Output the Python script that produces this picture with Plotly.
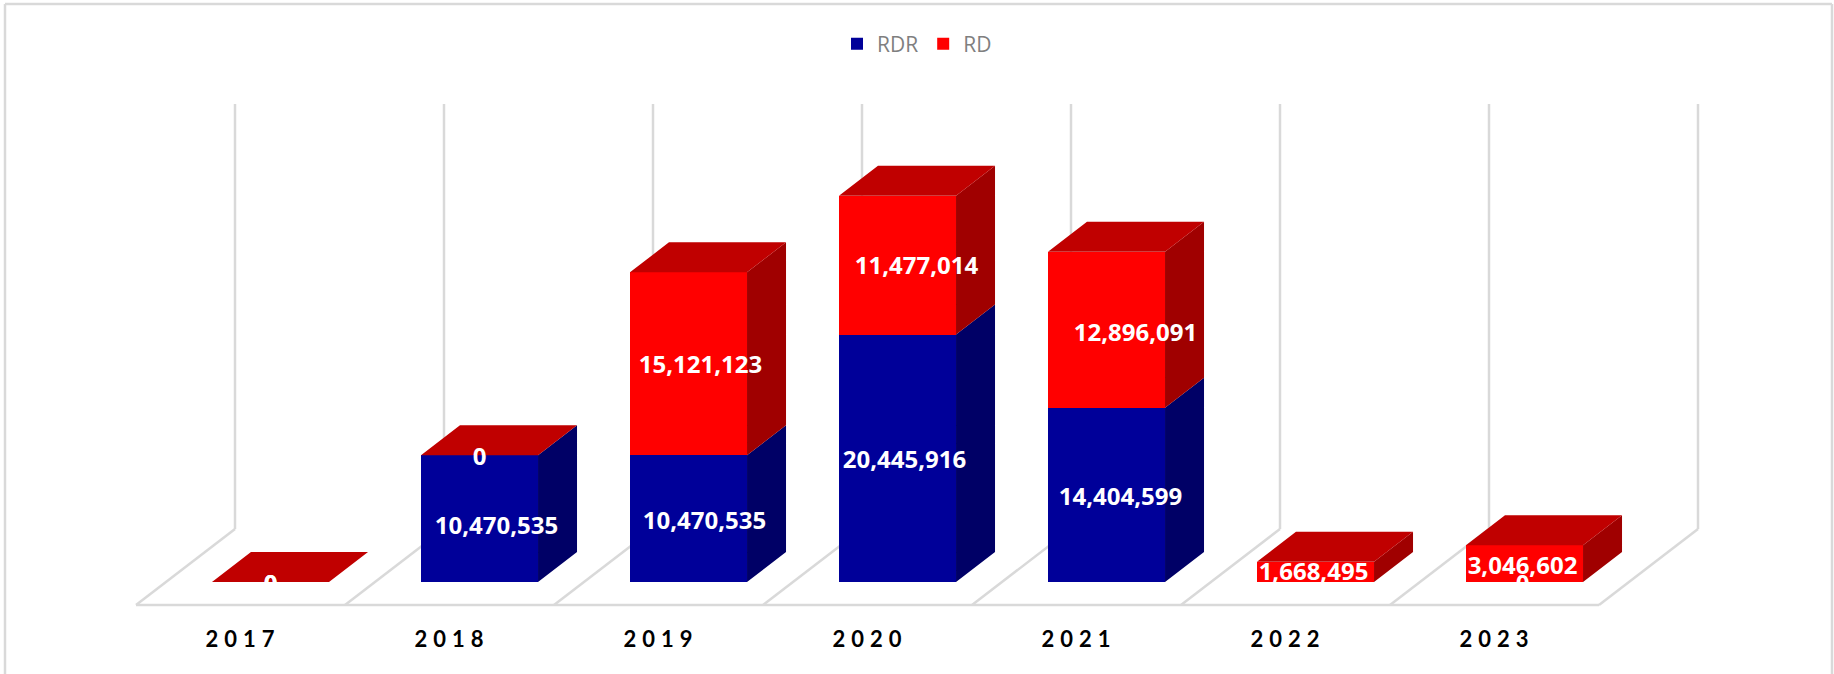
import plotly.graph_objects as go

years = [2017, 2018, 2019, 2020, 2021, 2022, 2023]
rdr = [0, 10470535, 10470535, 20445916, 14404599, None, 0]
rd = [0, 0, 15121123, 11477014, 12896091, 1668495, 3046602]

# label nudges (pixels from the middle of each bar segment, x right / y down)
rdr_label_dx = [0, 17, 16, 7, 14, 0, -2]
rdr_label_dy = [4, 9, 4, 4, 4, 0, 4]
rd_label_dx = [0, 0, 12, 19, 29, -2, -2]
rd_label_dy = [4, 4, 3, 3, 5, 2, 4]

W, H = 1834, 674
BASE_PX = 582          # pixel row of the value 0
PX_PER_UNIT = 12.1e-6  # pixels per value unit
SLOT_PX = 209
FIRST_CENTER_PX = 270.5
BAR_W = 0.56
DEPTH_X = 39 / SLOT_PX
DEPTH_Y = 30 / PX_PER_UNIT
TICK_SHIFT = -0.132

BLUE, BLUE_SIDE = "#000099", "#000066"
RED, RED_SIDE, RED_TOP = "#FF0000", "#A00000", "#C00000"
GRID = "#D9D9D9"
FONT = "Open Sans"

v_rdr = [v or 0 for v in rdr]
v_rd = [v or 0 for v in rd]

fig = go.Figure()
fig.add_bar(x=years, y=rdr, name="RDR", width=BAR_W, marker=dict(color=BLUE, line_width=0), hoverinfo="skip")
fig.add_bar(x=years, y=rd, name="RD", width=BAR_W, marker=dict(color=RED, line_width=0), hoverinfo="skip")


def faces(color, polys):
    xs, ys = [], []
    for p in polys:
        xs += [q[0] for q in p] + [p[0][0], None]
        ys += [q[1] for q in p] + [p[0][1], None]
    fig.add_scatter(x=xs, y=ys, mode="lines", fill="toself", fillcolor=color,
                    line=dict(width=0, color=color), showlegend=False, hoverinfo="skip")


def side(year, lo, hi):
    r = year + BAR_W / 2
    return [(r, lo), (r + DEPTH_X, lo + DEPTH_Y), (r + DEPTH_X, hi + DEPTH_Y), (r, hi)]


def top(year, h):
    l, r = year - BAR_W / 2, year + BAR_W / 2
    return [(l, h), (r, h), (r + DEPTH_X, h + DEPTH_Y), (l + DEPTH_X, h + DEPTH_Y)]


faces(BLUE_SIDE, [side(y, 0, a) for y, a in zip(years, v_rdr) if a])
faces(RED_SIDE, [side(y, a, a + b) for y, a, b in zip(years, v_rdr, v_rd) if b])
faces(RED_TOP, [top(y, a + b) for y, a, b in zip(years, v_rdr, v_rd)])

lx, ly, lt = [], [], []
for i, y in enumerate(years):
    if rdr[i] is not None:
        lx.append(y + rdr_label_dx[i] / SLOT_PX)
        ly.append(v_rdr[i] / 2 - rdr_label_dy[i] / PX_PER_UNIT)
        lt.append(f"{rdr[i]:,}")
    lx.append(y + rd_label_dx[i] / SLOT_PX)
    ly.append(v_rdr[i] + v_rd[i] / 2 - rd_label_dy[i] / PX_PER_UNIT)
    lt.append(f"{rd[i]:,}")
fig.add_scatter(x=lx, y=ly, text=lt, mode="text", textposition="middle center", cliponaxis=True,
                textfont=dict(family=FONT, size=24, color="white", weight="bold"),
                showlegend=False, hoverinfo="skip")


# wall, floor and frame lines, in page pixels
def px(x):
    return x / W


def py(y):
    return 1 - y / H


shapes = []


def seg(x0, y0, x1, y1):
    shapes.append(dict(type="line", xref="paper", yref="paper", layer="below",
                       x0=px(x0), y0=py(y0), x1=px(x1), y1=py(y1), line=dict(color=GRID, width=2.5)))


for i in range(8):
    fx, bx = 136 + SLOT_PX * i, 235 + SLOT_PX * i
    seg(fx, 605, bx, 529)
    seg(bx, 529, bx, 104)
seg(136, 605, 136 + SLOT_PX * 7, 605)
seg(5, 4, 1832, 4)
seg(5, 4, 5, 674)
seg(1832, 4, 1832, 674)

fig.update_layout(
    width=W, height=H, margin=dict(l=0, r=0, t=0, b=0), autosize=False,
    barmode="stack", paper_bgcolor="white", plot_bgcolor="white", shapes=shapes,
    xaxis=dict(range=[years[0] - FIRST_CENTER_PX / SLOT_PX, years[0] + (W - FIRST_CENTER_PX) / SLOT_PX],
               tickmode="array", tickvals=[y + TICK_SHIFT for y in years], ticktext=[str(y) for y in years],
               showgrid=False, zeroline=False, showline=False, ticks="", ticklabelstandoff=42,
               tickfont=dict(family="Lato", size=22, color="black", weight="bold"), automargin=False),
    yaxis=dict(domain=[1 - BASE_PX / H, 1], range=[0, BASE_PX / PX_PER_UNIT], visible=False),
    legend=dict(orientation="h", x=0.5, xanchor="center", y=1 - 44 / H, yanchor="middle",
                traceorder="normal",
                font=dict(family=FONT, size=21, color="#7F7F7F"), bgcolor="rgba(0,0,0,0)"),
)

post = ("document.body.style.margin='0';document.body.style.overflow='hidden';"
        "var s=document.createElement('style');"
        "s.textContent='.xtick text{letter-spacing:6px}.legendbar{transform:translate(15px,0) scale(1.25)}';"
        "document.head.appendChild(s);")
fig.write_html("out.html", post_script=post, config={"displayModeBar": False})
